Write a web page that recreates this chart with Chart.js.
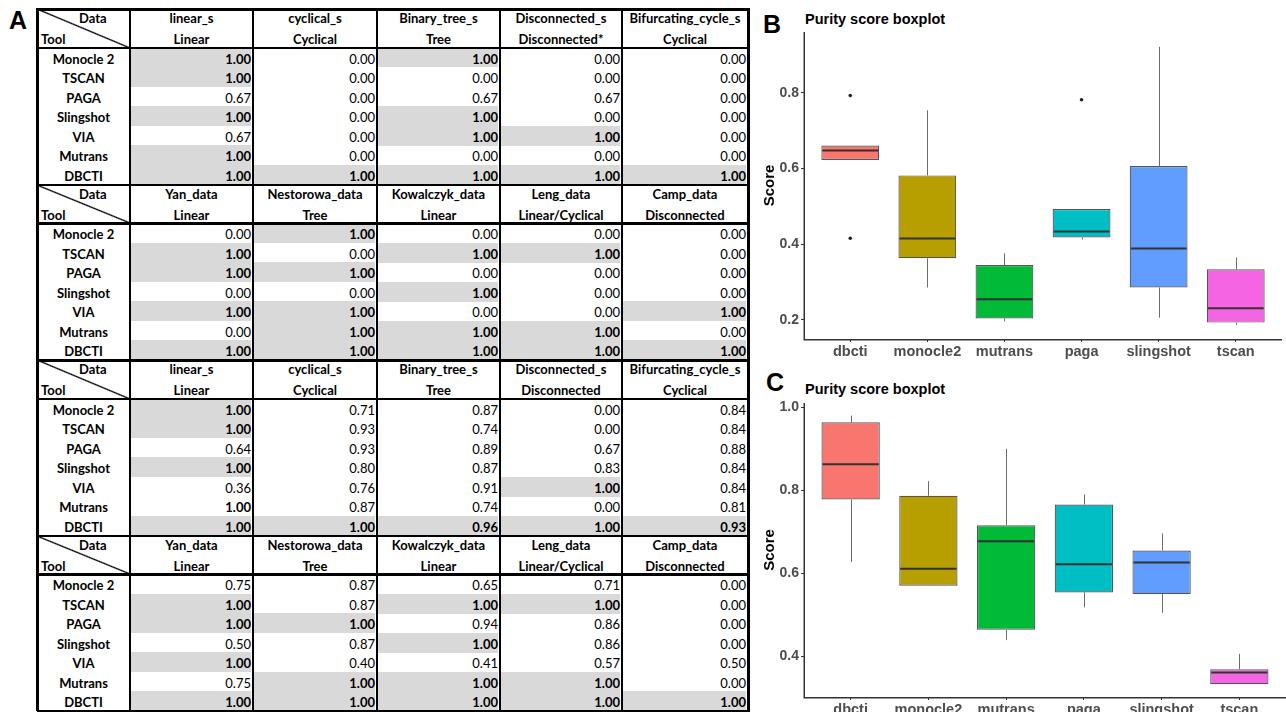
<!DOCTYPE html>
<html>
<head>
<meta charset="utf-8">
<script src="https://cdn.jsdelivr.net/npm/chart.js@4.4.1/dist/chart.umd.min.js"></script>
<style>
  body { margin: 0; background: #fff; }
  #page { position: relative; width: 1286px; height: 712px; overflow: hidden; }
  .abs { position: absolute; white-space: nowrap; }
  .tbl { font-family: Lato, "Open Sans", sans-serif; font-size: 13px; color: #000; line-height: 1; }
  .plotTxt { font-family: "Liberation Sans", Arial, sans-serif; font-weight: bold; }
  canvas { position: absolute; }
</style>
</head>
<body>
<div id="page">
  <div class="abs plotTxt" style="left:9px;top:6px;font-size:25px;">A</div>
  <div class="abs plotTxt" style="left:763px;top:10px;font-size:25px;">B</div>
  <div class="abs plotTxt" style="left:766px;top:368px;font-size:25px;">C</div>
  <div class="abs plotTxt" style="left:805px;top:11px;font-size:14.5px;">Purity score boxplot</div>
  <div class="abs plotTxt" style="left:805px;top:381px;font-size:14.5px;">Purity score boxplot</div>
  <canvas id="chartB" width="526" height="360" style="left:760px;top:0px;"></canvas>
  <canvas id="chartC" width="526" height="352" style="left:760px;top:360px;"></canvas>
</div>
<script>
// ---- panel A table data ----
const toolNames = ['Monocle 2', 'TSCAN', 'PAGA', 'Slingshot', 'VIA', 'Mutrans', 'DBCTI'];
const simNames = ['linear_s', 'cyclical_s', 'Binary_tree_s', 'Disconnected_s', 'Bifurcating_cycle_s'];
const simTypesTop = ['Linear', 'Cyclical', 'Tree', 'Disconnected*', 'Cyclical'];
const simTypes = ['Linear', 'Cyclical', 'Tree', 'Disconnected', 'Cyclical'];
const realNames = ['Yan_data', 'Nestorowa_data', 'Kowalczyk_data', 'Leng_data', 'Camp_data'];
const realTypes = ['Linear', 'Tree', 'Linear', 'Linear/Cyclical', 'Disconnected'];

const simTopology = [
    [1, 0, 1, 0, 0],
    [1, 0, 0, 0, 0],
    [0.67, 0, 0.67, 0.67, 0],
    [1, 0, 1, 0, 0],
    [0.67, 0, 1, 1, 0],
    [1, 0, 0, 0, 0],
    [1, 1, 1, 1, 1]
];
const realTopology = [
    [0, 1, 0, 0, 0],
    [1, 0, 1, 1, 0],
    [1, 1, 0, 0, 0],
    [0, 0, 1, 0, 0],
    [1, 1, 0, 0, 1],
    [0, 1, 1, 1, 0],
    [1, 1, 1, 1, 1]
];
const simScore = [
    [1, 0.71, 0.87, 0, 0.84],
    [1, 0.93, 0.74, 0, 0.84],
    [0.64, 0.93, 0.89, 0.67, 0.88],
    [1, 0.80, 0.87, 0.83, 0.84],
    [0.36, 0.76, 0.91, 1, 0.84],
    [1, 0.87, 0.74, 0, 0.81],
    [1, 1, 0.96, 1, 0.93]
];
const realScore = [
    [0.75, 0.87, 0.65, 0.71, 0],
    [1, 0.87, 1, 1, 0],
    [1, 1, 0.94, 0.86, 0],
    [0.50, 0.87, 1, 0.86, 0],
    [1, 0.40, 0.41, 0.57, 0.50],
    [0.75, 1, 1, 1, 0],
    [1, 1, 1, 1, 1]
];

// ---- panels B / C boxplot data ----
const tools = ['dbcti', 'monocle2', 'mutrans', 'paga', 'slingshot', 'tscan'];
const boxColors = ['#F8766D', '#B79F00', '#00BA38', '#00BFC4', '#619CFF', '#F564E3'];

const bMin = [0.623, 0.286, 0.196, 0.413, 0.206, 0.187];
const bQ1 = [0.623, 0.363, 0.204, 0.418, 0.286, 0.193];
const bMed = [0.648, 0.415, 0.255, 0.434, 0.389, 0.231];
const bQ3 = [0.661, 0.582, 0.345, 0.493, 0.607, 0.334];
const bMax = [0.661, 0.754, 0.376, 0.493, 0.922, 0.365];
const bOutliers = [[0.793, 0.416], [], [], [0.782], [], []];
const bTicks = [0.2, 0.4, 0.6, 0.8];

const cMin = [0.627, 0.570, 0.439, 0.518, 0.505, 0.333];
const cQ1 = [0.778, 0.570, 0.464, 0.554, 0.550, 0.333];
const cMed = [0.863, 0.611, 0.677, 0.622, 0.626, 0.361];
const cQ3 = [0.964, 0.787, 0.716, 0.766, 0.655, 0.369];
const cMax = [0.980, 0.822, 0.900, 0.790, 0.696, 0.406];
const cOutliers = [[], [], [], [], [], []];
const cTicks = [0.4, 0.6, 0.8, 1.0];

// ---------- table ----------
(function () {
    const page = document.getElementById('page');
    const colX = [37, 130, 253, 377, 500, 622, 748];
    const top0 = 9, blockH = 175.5, headH = 38.5, rowH = 19.57;
    const blocks = [
        { names: simNames, types: simTypesTop, vals: simTopology },
        { names: realNames, types: realTypes, vals: realTopology },
        { names: simNames, types: simTypes, vals: simScore },
        { names: realNames, types: realTypes, vals: realScore }
    ];

    function box(l, t, w, h, css) {
        const d = document.createElement('div');
        d.className = 'abs tbl';
        d.style.left = l + 'px';
        d.style.top = t + 'px';
        d.style.width = w + 'px';
        d.style.height = h + 'px';
        if (css) d.style.cssText += css;
        page.appendChild(d);
        return d;
    }

    blocks.forEach(function (blk, b) {
        const bt = top0 + b * blockH;
        // header diagonal cell
        box(colX[0], bt, colX[1] - colX[0], headH,
            'background:linear-gradient(to top right, transparent calc(50% - 1.3px), #000 50%, transparent calc(50% + 1.3px));');
        box(79, bt + 3, 40, 16, 'font-weight:bold;').textContent = 'Data';
        box(41, bt + 24, 40, 16, 'font-weight:bold;').textContent = 'Tool';
        for (let c = 0; c < 5; c++) {
            const l = colX[c + 1], w = colX[c + 2] - colX[c + 1];
            box(l, bt + 3, w, 16, 'text-align:center;font-weight:bold;').textContent = blk.names[c];
            box(l, bt + 24, w, 16, 'text-align:center;font-weight:bold;').textContent = blk.types[c];
        }
        for (let r = 0; r < 7; r++) {
            const rt = bt + headH + r * rowH;
            box(colX[0], rt + 5, colX[1] - colX[0], 16, 'text-align:center;font-weight:bold;').textContent = toolNames[r];
            for (let c = 0; c < 5; c++) {
                const v = blk.vals[r][c];
                const isTop = v >= 1 || r === 6;
                const shade = isTop && !(b === 2 && r === 5 && c === 0);
                const l = colX[c + 1], w = colX[c + 2] - colX[c + 1];
                const cell = box(l, rt, w - 2, rowH + 0.4,
                    'text-align:right;padding-top:5px;box-sizing:border-box;' +
                    (shade ? 'background:#D9D9D9;' : '') + (isTop ? 'font-weight:bold;' : ''));
                cell.textContent = v.toFixed(2);
            }
        }
        // horizontal rules
        box(colX[0], bt - 1, colX[6] - colX[0] + 2, 2.5, 'background:#000;');
        box(colX[0], bt + headH - 1, colX[6] - colX[0] + 2, 2.5, 'background:#000;');
    });
    box(colX[0], top0 + 4 * blockH - 1.5, colX[6] - colX[0] + 2, 3, 'background:#000;');
    // vertical rules
    const H = 4 * blockH + 1;
    colX.forEach(function (x, i) {
        const w = (i === 0 || i === 6) ? 3 : 2;
        box(x - 1, top0 - 1, w, H, 'background:#000;');
    });
})();

// ---------- boxplots ----------
const whiskerPlugin = {
    id: 'whiskers',
    beforeDatasetsDraw(chart) {
        const s = chart.options.plugins.whiskers;
        const x = chart.scales.x, y = chart.scales.y, ctx = chart.ctx;
        ctx.save();
        ctx.strokeStyle = '#6b6b6b';
        ctx.lineWidth = 1;
        for (let i = 0; i < s.q1.length; i++) {
            const px = Math.round(x.getPixelForValue(i)) + 0.5;
            ctx.beginPath();
            ctx.moveTo(px, y.getPixelForValue(s.max[i]));
            ctx.lineTo(px, y.getPixelForValue(s.q3[i]));
            ctx.moveTo(px, y.getPixelForValue(s.q1[i]));
            ctx.lineTo(px, y.getPixelForValue(s.min[i]));
            ctx.stroke();
        }
        ctx.restore();
    },
    afterDatasetsDraw(chart) {
        const s = chart.options.plugins.whiskers;
        const x = chart.scales.x, y = chart.scales.y, ctx = chart.ctx;
        ctx.save();
        ctx.strokeStyle = '#333333';
        ctx.lineWidth = 2;
        for (let i = 0; i < s.med.length; i++) {
            const half = x.getPixelForValue(i + 0.375) - x.getPixelForValue(i);
            const px = x.getPixelForValue(i);
            const py = y.getPixelForValue(s.med[i]);
            ctx.beginPath();
            ctx.moveTo(px - half + 1, py);
            ctx.lineTo(px + half - 1, py);
            ctx.stroke();
        }
        ctx.restore();
    },
    afterDraw(chart) {
        // axis lines on top of everything
        const area = chart.chartArea, ctx = chart.ctx;
        ctx.save();
        ctx.strokeStyle = '#333333';
        ctx.lineWidth = 1.5;
        ctx.beginPath();
        ctx.moveTo(area.left + 0.25, area.top);
        ctx.lineTo(area.left + 0.25, area.bottom + 0.75);
        ctx.lineTo(area.right, area.bottom + 0.75);
        ctx.stroke();
        ctx.restore();
    }
};

function makeBoxChart(id, mins, q1, med, q3, maxs, outliers, ticks, yMin, yMax, padTop, xH) {
    const pts = [];
    outliers.forEach(function (list, i) {
        list.forEach(function (v) { pts.push({ x: i, y: v }); });
    });
    const axisColor = '#333333';
    new Chart(document.getElementById(id).getContext('2d'), {
        type: 'bar',
        data: {
            datasets: [{
                type: 'scatter',
                data: pts,
                pointRadius: 1.8,
                pointBackgroundColor: '#222',
                pointBorderWidth: 0
            }, {
                data: tools.map(function (t, i) { return { x: i, y: [q1[i], q3[i]] }; }),
                backgroundColor: boxColors,
                borderColor: '#555555',
                borderWidth: 1.2,
                borderSkipped: false,
                barPercentage: 0.75,
                categoryPercentage: 1.0
            }]
        },
        options: {
            responsive: false,
            animation: false,
            layout: { padding: { top: padTop, right: 0, left: 0, bottom: 0 } },
            plugins: {
                legend: { display: false },
                tooltip: { enabled: false },
                whiskers: { min: mins, q1: q1, med: med, q3: q3, max: maxs }
            },
            scales: {
                x: {
                    type: 'linear',
                    min: -0.6,
                    max: 5.6,
                    offset: false,
                    afterBuildTicks: function (scale) {
                        scale.ticks = tools.map(function (t, i) { return { value: i }; });
                    },
                    afterFit: function (scale) { scale.height = xH; },
                    ticks: {
                        callback: function (v) { return tools[v]; },
                        font: { family: 'Liberation Sans, Arial, sans-serif', size: 14.5, weight: 'bold' },
                        color: '#4D4D4D',
                        padding: 1,
                        maxRotation: 0,
                        autoSkip: false
                    },
                    grid: { offset: false, drawOnChartArea: false, drawTicks: true, tickLength: 3, color: axisColor },
                    border: { display: false }
                },
                y: {
                    min: yMin,
                    max: yMax,
                    afterBuildTicks: function (scale) {
                        scale.ticks = ticks.map(function (v) { return { value: v }; });
                    },
                    afterFit: function (scale) { scale.width = 44; },
                    ticks: {
                        callback: function (v) { return v.toFixed(1); },
                        font: { family: 'Liberation Sans, Arial, sans-serif', size: 14, weight: 'bold' },
                        color: '#4D4D4D',
                        padding: 2
                    },
                    title: {
                        display: true,
                        text: 'Score',
                        font: { family: 'Liberation Sans, Arial, sans-serif', size: 15, weight: 'bold' },
                        color: '#000',
                        padding: { top: 1, bottom: 0 }
                    },
                    grid: { drawOnChartArea: false, drawTicks: true, tickLength: 3, color: axisColor },
                    border: { display: false }
                }
            }
        },
        plugins: [whiskerPlugin]
    });
}

makeBoxChart('chartB', bMin, bQ1, bMed, bQ3, bMax, bOutliers, bTicks, 0.1497, 0.961, 32, 21);
makeBoxChart('chartC', cMin, cQ1, cMed, cQ3, cMax, cOutliers, cTicks, 0.302, 1.0104, 43, 15);
</script>
</body>
</html>
